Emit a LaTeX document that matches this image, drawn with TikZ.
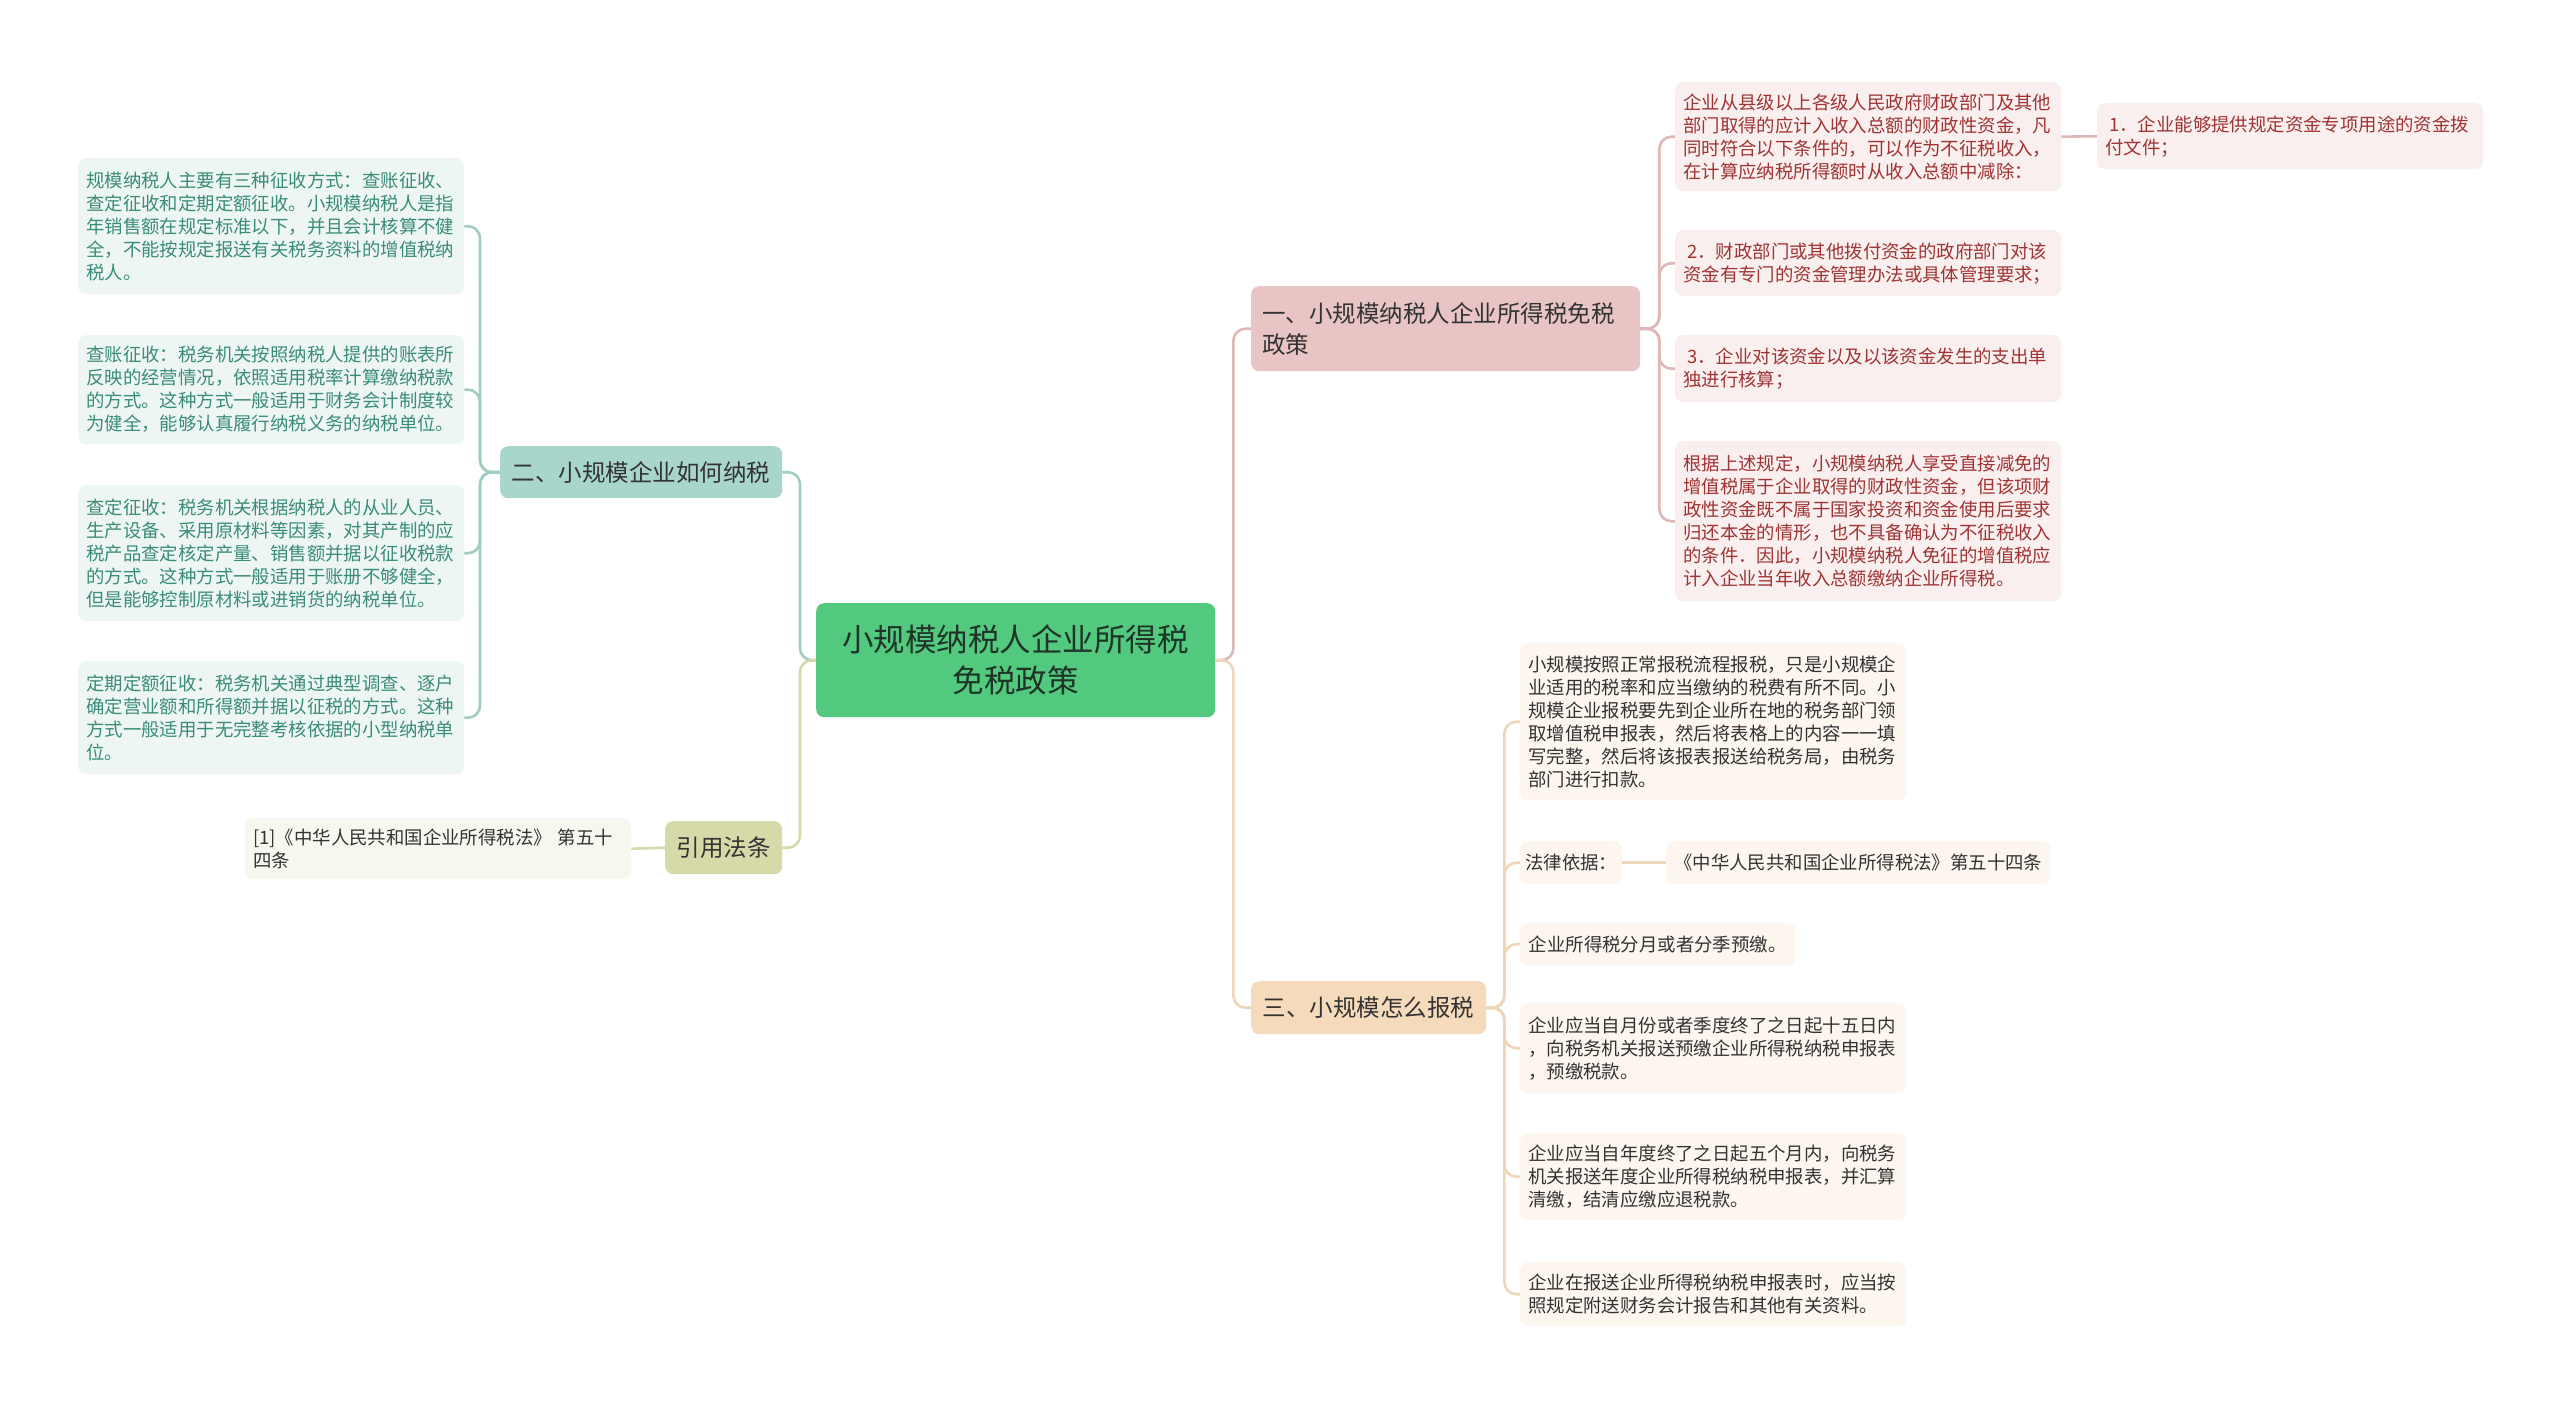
\documentclass[tikz,border=0pt]{standalone}
\usepackage{fontspec}
\setmainfont{Noto Sans CJK SC}
\definecolor{cgreen}{RGB}{82,201,127}
\definecolor{cgreentxt}{RGB}{30,52,38}
\definecolor{bpink}{RGB}{232,196,196}
\definecolor{lpink}{RGB}{222,184,184}
\definecolor{fpink}{RGB}{249,239,239}
\definecolor{tpink}{RGB}{160,52,52}
\definecolor{bteal}{RGB}{168,213,204}
\definecolor{lteal}{RGB}{160,205,196}
\definecolor{fteal}{RGB}{238,246,244}
\definecolor{tteal}{RGB}{58,140,122}
\definecolor{bpeach}{RGB}{245,218,188}
\definecolor{lpeach}{RGB}{238,214,184}
\definecolor{fpeach}{RGB}{252,246,239}
\definecolor{bolive}{RGB}{214,218,168}
\definecolor{lolive}{RGB}{214,217,170}
\definecolor{folive}{RGB}{246,247,238}
\definecolor{tdark}{RGB}{51,51,51}
\tikzset{
  leaf/.style={anchor=north west, rounded corners=8pt, inner xsep=8pt, inner ysep=0pt,
    align=left, text width=370pt, font=\fontsize{18.4}{23}\selectfont},
  leafR/.style={leaf, fill=fpink, text=tpink},
  leafT/.style={leaf, fill=fteal, text=tteal},
  leafP/.style={leaf, fill=fpeach, text=tdark},
  leafO/.style={leaf, fill=folive, text=tdark},
  branchbox/.style={anchor=north west, rounded corners=8pt, inner xsep=11pt, inner ysep=0pt,
    text=tdark, font=\fontsize{23.5}{31}\selectfont},
  conn/.style={line width=2.6pt, rounded corners=12pt},
}
\begin{document}
\begin{tikzpicture}[x=1pt,y=-1pt]
\useasboundingbox (0,0) rectangle (2560,1405);
\fill[white] (0,0) rectangle (2560,1405);

% central
\node[anchor=north west, rounded corners=8pt, fill=cgreen, text=cgreentxt, minimum width=399pt,
  minimum height=114pt, align=center, inner sep=0pt, font=\fontsize{31.5}{41}\selectfont]
  (cen) at (816,603) {小规模纳税人企业所得税\\免税政策};

% branches
\node[branchbox, fill=bpink, text width=367pt, align=left, minimum height=85pt] (b1) at (1251,286)
  {一、小规模纳税人企业所得税免税\\政策};
\node[branchbox, fill=bteal, minimum width=282pt, minimum height=52pt] (b2) at (500,446)
  {二、小规模企业如何纳税};
\node[branchbox, fill=bpeach, minimum width=235pt, minimum height=53pt] (b3) at (1251,981)
  {三、小规模怎么报税};
\node[branchbox, fill=bolive, minimum width=117pt, minimum height=53pt] (b4) at (665,821)
  {引用法条};

% branch 1 leaves
\node[leafR, minimum height=109pt] (c1) at (1675,82)
  {企业从县级以上各级人民政府财政部门及其他\\部门取得的应计入收入总额的财政性资金，凡\\同时符合以下条件的，可以作为不征税收入，\\在计算应纳税所得额时从收入总额中减除：};
\node[leafR, minimum height=66pt] (c1a) at (2097,103)
  {\hspace*{4pt}1．企业能够提供规定资金专项用途的资金拨\\付文件；};
\node[leafR, minimum height=66pt] (c2) at (1675,230)
  {\hspace*{4pt}2．财政部门或其他拨付资金的政府部门对该\\资金有专门的资金管理办法或具体管理要求；};
\node[leafR, minimum height=67pt] (c3) at (1675,335)
  {\hspace*{4pt}3．企业对该资金以及以该资金发生的支出单\\独进行核算；};
\node[leafR, minimum height=160pt] (c4) at (1675,441)
  {根据上述规定，小规模纳税人享受直接减免的\\增值税属于企业取得的财政性资金，但该项财\\政性资金既不属于国家投资和资金使用后要求\\归还本金的情形，也不具备确认为不征税收入\\的条件．因此，小规模纳税人免征的增值税应\\计入企业当年收入总额缴纳企业所得税。};

% branch 3 leaves
\node[leafP, minimum height=157pt] (d1) at (1520,643)
  {小规模按照正常报税流程报税，只是小规模企\\业适用的税率和应当缴纳的税费有所不同。小\\规模企业报税要先到企业所在地的税务部门领\\取增值税申报表，然后将表格上的内容一一填\\写完整，然后将该报表报送给税务局，由税务\\部门进行扣款。};
\node[leafP, text width=, minimum width=102pt, minimum height=43pt, inner xsep=5pt] (d2) at (1520,841)
  {法律依据：};
\node[leafP, text width=, minimum width=384pt, minimum height=43pt] (d2a) at (1666,841)
  {《中华人民共和国企业所得税法》第五十四条};
\node[leafP, text width=, minimum width=275pt, minimum height=42pt] (d3) at (1520,923)
  {企业所得税分月或者分季预缴。};
\node[leafP, minimum height=90pt] (d4) at (1520,1003)
  {企业应当自月份或者季度终了之日起十五日内\\，向税务机关报送预缴企业所得税纳税申报表\\，预缴税款。};
\node[leafP, minimum height=87pt] (d5) at (1520,1133)
  {企业应当自年度终了之日起五个月内，向税务\\机关报送年度企业所得税纳税申报表，并汇算\\清缴，结清应缴应退税款。};
\node[leafP, minimum height=64pt] (d6) at (1520,1262)
  {企业在报送企业所得税纳税申报表时，应当按\\照规定附送财务会计报告和其他有关资料。};

% branch 2 leaves
\node[leafT, minimum height=136pt] (e1) at (78,158)
  {规模纳税人主要有三种征收方式：查账征收、\\查定征收和定期定额征收。小规模纳税人是指\\年销售额在规定标准以下，并且会计核算不健\\全，不能按规定报送有关税务资料的增值税纳\\税人。};
\node[leafT, minimum height=109pt] (e2) at (78,335)
  {查账征收：税务机关按照纳税人提供的账表所\\反映的经营情况，依照适用税率计算缴纳税款\\的方式。这种方式一般适用于财务会计制度较\\为健全，能够认真履行纳税义务的纳税单位。};
\node[leafT, minimum height=136pt] (e3) at (78,485)
  {查定征收：税务机关根据纳税人的从业人员、\\生产设备、采用原材料等因素，对其产制的应\\税产品查定核定产量、销售额并据以征收税款\\的方式。这种方式一般适用于账册不够健全，\\但是能够控制原材料或进销货的纳税单位。};
\node[leafT, minimum height=113pt] (e4) at (78,661)
  {定期定额征收：税务机关通过典型调查、逐户\\确定营业额和所得额并据以征税的方式。这种\\方式一般适用于无完整考核依据的小型纳税单\\位。};

% branch 4 leaf
\node[leafO, minimum height=61pt] (f1) at (245,818)
  {[1]《中华人民共和国企业所得税法》 第五十\\四条};

% connectors: centre to branches
\draw[conn, lpink]  (cen.east) -- ++(18,0) |- (b1.west);
\draw[conn, lpeach] (cen.east) -- ++(18,0) |- (b3.west);
\draw[conn, lteal]  (cen.west) -- ++(-16,0) |- (b2.east);
\draw[conn, lolive] (cen.west) -- ++(-16,0) |- (b4.east);

% branch 1
\foreach \c in {c1,c2,c3,c4}
  \draw[conn, lpink] (b1.east) -- ++(19,0) |- (\c.west);
\draw[conn, lpink] (c1.east) -- (c1a.west);

% branch 3
\foreach \c in {d1,d2,d3,d4,d5,d6}
  \draw[conn, lpeach] (b3.east) -- ++(18,0) |- (\c.west);
\draw[conn, lpeach] (d2.east) -- (d2a.west);

% branch 2
\foreach \c in {e1,e2,e3,e4}
  \draw[conn, lteal] (b2.west) -- ++(-20,0) |- (\c.east);

% branch 4
\draw[conn, lolive] (b4.west) -- (f1.east);
\end{tikzpicture}
\end{document}
